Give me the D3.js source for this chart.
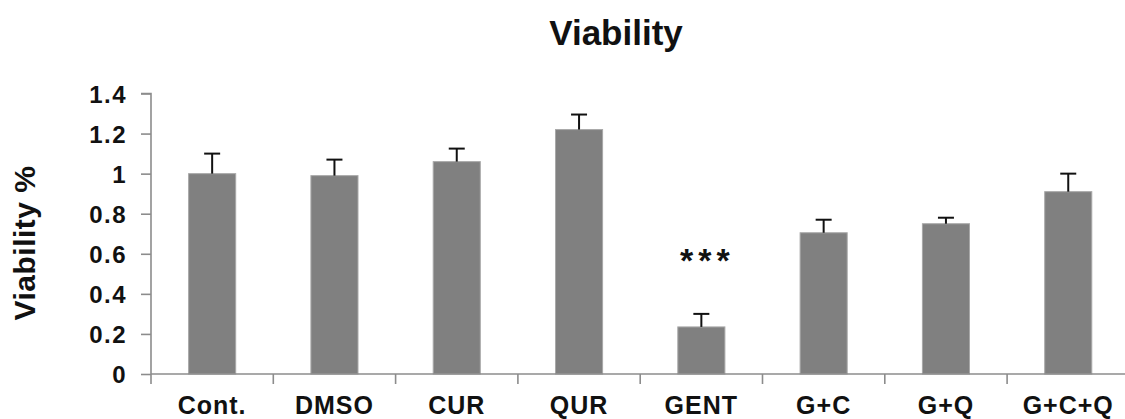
<!DOCTYPE html>
<html>
<head>
<meta charset="utf-8">
<script src="https://cdn.jsdelivr.net/npm/d3@7"></script>
<style>
  body { margin: 0; background: #fff; }
  text { font-family: "Liberation Sans", Arial, sans-serif; font-weight: bold; fill: #111; }
</style>
</head>
<body>
<div id="chart"></div>
<script>
(function(){

    // data
    var groups = ["Cont.", "DMSO", "CUR", "QUR", "GENT", "G+C", "G+Q", "G+C+Q"];
    var means  = [1.00, 0.99, 1.06, 1.22, 0.235, 0.705, 0.75, 0.91];
    var errors = [0.10, 0.08, 0.065, 0.075, 0.065, 0.065, 0.03, 0.09];
    var yTicks = [0, 0.2, 0.4, 0.6, 0.8, 1, 1.2, 1.4];
    var marks  = ["", "", "", "", "***", "", "", ""];

    var width = 1125;
    var height = 419;
    var margin = {top: 93.5, left: 151, right: -4.4, bottom: 45};

    var svg = d3.select("#chart").append("svg")
        .attr("width", width)
        .attr("height", height);

    var x = d3.scaleBand()
        .domain(groups)
        .range([margin.left, width - margin.right]);

    var y = d3.scaleLinear()
        .domain([0, 1.4])
        .range([height - margin.bottom, margin.top]);

    var barW = x.bandwidth() * 0.385;
    var base = y(0);

    // title
    svg.append("text")
        .attr("x", 616)
        .attr("y", 45)
        .attr("text-anchor", "middle")
        .attr("font-size", "35px")
        .text("Viability");

    // y label
    svg.append("text")
        .attr("transform", "translate(35," + 243 + ") rotate(-90)")
        .attr("text-anchor", "middle")
        .attr("font-size", "30px")
        .attr("letter-spacing", "0.5px")
        .text("Viability %");

    // bars
    svg.append("g").selectAll("rect")
        .data(groups).enter().append("rect")
        .attr("x", function(d){ return x(d) + (x.bandwidth() - barW) / 2; })
        .attr("y", function(d, i){ return y(means[i]); })
        .attr("width", barW)
        .attr("height", function(d, i){ return base - y(means[i]); })
        .style("fill", "#808080")
        .style("stroke", "#a8a8a8")
        .style("stroke-width", 1);

    // error bars (upper only)
    var err = svg.append("g").selectAll("g")
        .data(groups).enter().append("g")
        .style("stroke", "#111")
        .style("stroke-width", 2);

    err.append("line")
        .attr("x1", function(d){ return x(d) + x.bandwidth() / 2; })
        .attr("x2", function(d){ return x(d) + x.bandwidth() / 2; })
        .attr("y1", function(d, i){ return y(means[i]); })
        .attr("y2", function(d, i){ return y(means[i] + errors[i]); });

    err.append("line")
        .attr("x1", function(d){ return x(d) + x.bandwidth() / 2 - 8; })
        .attr("x2", function(d){ return x(d) + x.bandwidth() / 2 + 8; })
        .attr("y1", function(d, i){ return y(means[i] + errors[i]); })
        .attr("y2", function(d, i){ return y(means[i] + errors[i]); });

    // significance marks
    svg.append("g").selectAll("text")
        .data(groups).enter().append("text")
        .attr("x", function(d){ return x(d) + x.bandwidth() / 2 + 6; })
        .attr("y", 272)
        .attr("text-anchor", "middle")
        .attr("font-size", "34px")
        .attr("font-weight", "normal")
        .attr("letter-spacing", "5px")
        .text(function(d, i){ return marks[i]; });

    // y axis
    var yAxis = d3.axisLeft(y)
        .tickValues(yTicks)
        .tickSize(10)
        .tickPadding(14)
        .tickFormat(function(d){ return d; });

    var gy = svg.append("g")
        .attr("transform", "translate(" + margin.left + ",0)")
        .call(yAxis);
    gy.select(".domain").attr("d", "M-10," + margin.top + "H0V" + base);
    gy.selectAll("line, path").style("stroke", "#8c8c8c").style("stroke-width", 1.6);
    gy.selectAll("text")
        .attr("font-size", "24px")
        .attr("letter-spacing", "1.5px")
        .attr("dy", "0.36em")
        .style("font-family", "'Liberation Sans', Arial, sans-serif")
        .style("fill", "#111");

    // x axis: ticks at category boundaries
    var bounds = groups.map(function(d){ return x(d); }).concat([x.range()[1]]);
    var gx = svg.append("g");
    gx.append("line")
        .attr("x1", margin.left).attr("x2", width)
        .attr("y1", base).attr("y2", base);
    gx.selectAll(".tick").data(bounds).enter().append("line")
        .attr("class", "tick")
        .attr("x1", function(d){ return d; })
        .attr("x2", function(d){ return d; })
        .attr("y1", base).attr("y2", base + 10);
    gx.selectAll("line").style("stroke", "#8c8c8c").style("stroke-width", 1.6);

    gx.selectAll("text").data(groups).enter().append("text")
        .attr("x", function(d){ return x(d) + x.bandwidth() / 2; })
        .attr("y", 414)
        .attr("text-anchor", "middle")
        .attr("font-size", "25px")
        .attr("letter-spacing", "1px")
        .text(function(d){ return d; });

})();
</script>
</body>
</html>
